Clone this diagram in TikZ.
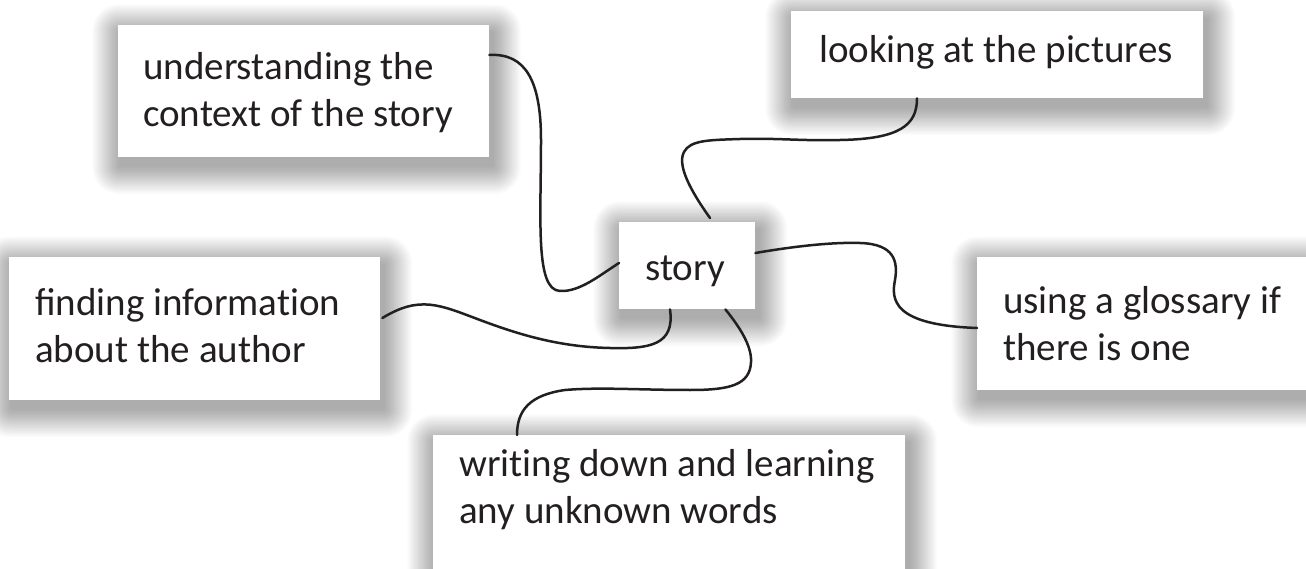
\documentclass[tikz,border=0pt]{standalone}
\usepackage{fontspec}
\setmainfont{Carlito}[RawFeature={-liga;-clig;-dlig;-calt}]
\usetikzlibrary{calc}
\definecolor{ink}{HTML}{231F20}
\pgfdeclarelayer{bg}
\pgfsetlayers{bg,main}
\newcommand{\cardshadow}[1]{%
  \foreach \i in {1,...,22}{%
    \fill[black, opacity=0.015, rounded corners=1.2*\i pt]
      ($(#1.north west)+(3-1.3*\i,8-1.3*\i)$) rectangle ($(#1.south east)+(3+1.3*\i,8+1.3*\i)$);
  }}
\begin{document}
\begin{tikzpicture}[x=1pt,y=-1pt,
  card/.style={draw=none, fill=white, rectangle, inner sep=0pt, anchor=north west},
  lbl/.style={anchor=base west, inner sep=0pt, text=ink, align=left,
    font=\fontsize{39}{47}\selectfont},
  link/.style={draw=ink, line width=2.5pt, line cap=round}]
\useasboundingbox (0,0) rectangle (1306,569);

% cards
\node[card, minimum width=371pt, minimum height=132pt] (ctx)   at (118,25)  {};
\node[card, minimum width=412pt, minimum height=87pt]  (pics)  at (791,11)  {};
\node[card, minimum width=136pt, minimum height=87pt]  (story) at (619,222) {};
\node[card, minimum width=371pt, minimum height=143pt] (find)  at (9,257)   {};
\node[card, minimum width=345pt, minimum height=133pt] (gloss) at (977,257) {};
\node[card, minimum width=472pt, minimum height=150pt] (writ)  at (433,435) {};

\begin{pgfonlayer}{bg}
  \fill[white] (-10,-10) rectangle (1320,600);
  \cardshadow{ctx}
  \cardshadow{pics}
  \cardshadow{story}
  \cardshadow{find}
  \cardshadow{gloss}
  \cardshadow{writ}
\end{pgfonlayer}

% texts (base = baseline of last line)
\node[lbl] (ctxt)   at ($(ctx.north west)+(25,102)$)   {understanding the\\context of the story};
\node[lbl] (picst)  at ($(pics.north west)+(28,52)$)   {looking at the pictures};
\node[lbl] (storyt) at ($(story.north west)+(26,58)$)  {story};
\node[lbl] (findt)  at ($(find.north west)+(26,105)$)  {ﬁnding information\\about the author};
\node[lbl] (glosst) at ($(gloss.north west)+(26,103)$) {using a glossary if\\there is one};
\node[lbl] (writt)  at ($(writ.north west)+(26,88)$)   {writing down and learning\\any unknown words};

% connectors
\draw[link] ($(ctx.north east)+(0,30)$)
  .. controls (525,53) and (541,80) .. (541,140)
  .. controls (541,220) and (535,290) .. (560,291)
  .. controls (580,292) and (600,275) .. ($(story.north west)+(0,41)$);

\draw[link] ($(story.north west)+(91,-4)$)
  .. controls (690,190) and (677,165) .. (684,152)
  .. controls (690,140) and (710,140) .. (740,139)
  .. controls (780,138) and (800,141) .. (840,140)
  .. controls (900,139) and (917,125) .. ($(pics.south west)+(126,0)$);

\draw[link] ($(story.north east)+(0,31)$)
  .. controls (790,247) and (830,242) .. (860,243)
  .. controls (895,244) and (898,262) .. (895,280)
  .. controls (891,300) and (893,325) .. ($(gloss.north west)+(0,71)$);

\draw[link] ($(story.south west)+(51,0)$)
  .. controls (675,345) and (650,349) .. (610,348)
  .. controls (560,347) and (520,335) .. (480,320)
  .. controls (440,305) and (420,295) .. ($(find.north east)+(2,61)$);

\draw[link] ($(story.south east)+(-30,0)$)
  .. controls (738,325) and (752,345) .. (751,362)
  .. controls (750,385) and (730,390) .. (690,390)
  .. controls (640,390) and (600,387) .. (565,390)
  .. controls (530,395) and (517,410) .. ($(writ.north west)+(84,0)$);
\end{tikzpicture}
\end{document}
